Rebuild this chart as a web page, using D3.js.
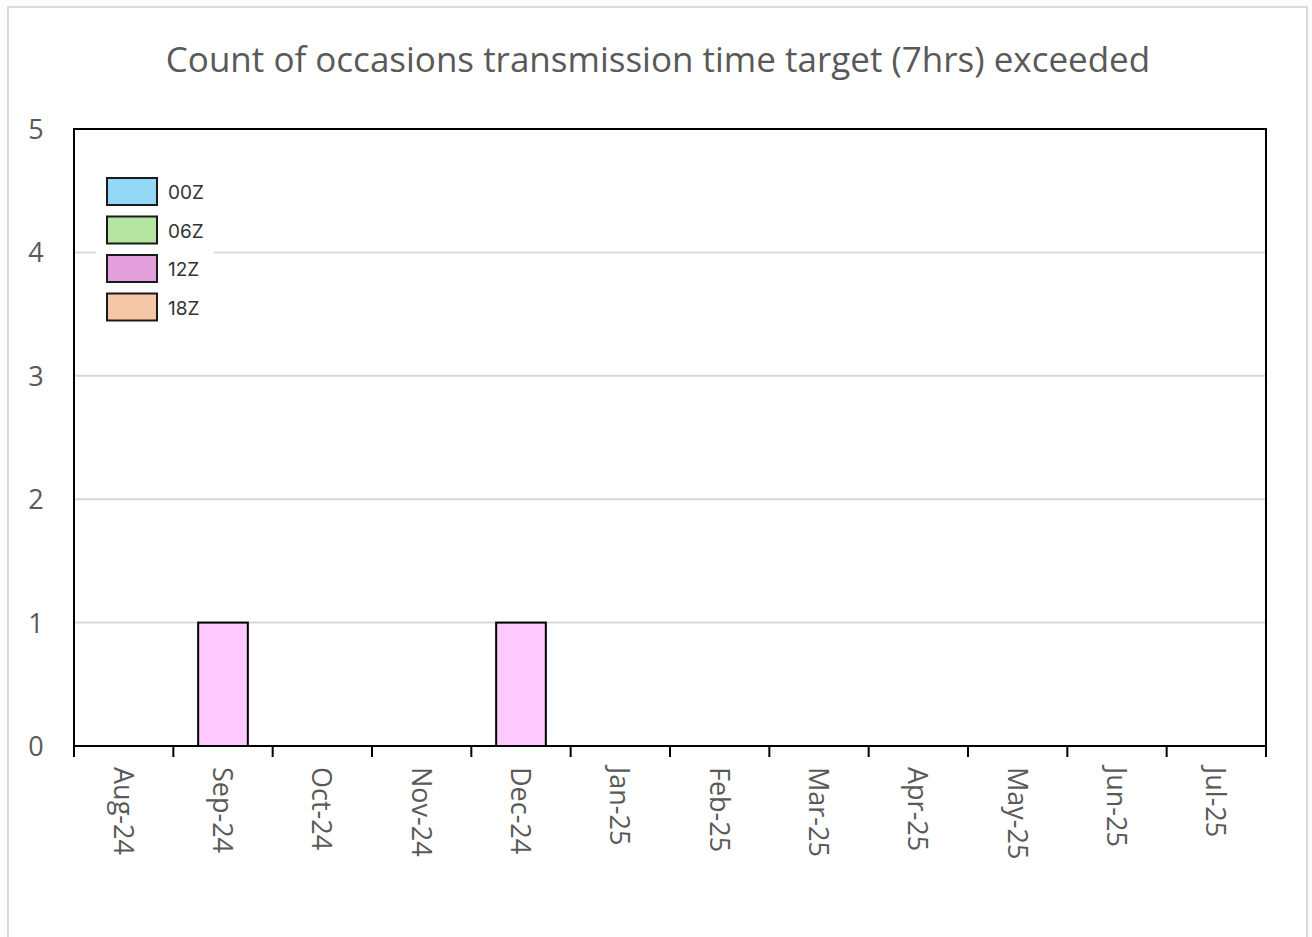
<!DOCTYPE html>
<html>
<script src="https://d3js.org/d3.v7.min.js"></script>
<body style="margin:0;background:#fcfcfc">
<svg id="canvas" width="1312" height="937"></svg>

<script>
    const months = ["Aug-24", "Sep-24", "Oct-24", "Nov-24", "Dec-24", "Jan-25",
                    "Feb-25", "Mar-25", "Apr-25", "May-25", "Jun-25", "Jul-25"];
    const series = ["00Z", "06Z", "12Z", "18Z"];
    const v00Z = [0, 0, 0, 0, 0, 0, 0, 0, 0, 0, 0, 0];
    const v06Z = [0, 0, 0, 0, 0, 0, 0, 0, 0, 0, 0, 0];
    const v12Z = [0, 1, 0, 0, 1, 0, 0, 0, 0, 0, 0, 0];
    const v18Z = [0, 0, 0, 0, 0, 0, 0, 0, 0, 0, 0, 0];
    const yTicks = [0, 1, 2, 3, 4, 5];
    const title = "Count of occasions transmission time target (7hrs) exceeded";

    const legendColors = ["#93d9f5", "#b5e3a0", "#e3a0dd", "#f5c6a6"];
    const barColors = ["#93d9f5", "#b5e3a0", "#ffc8ff", "#f5c6a6"];

    const svg = d3.select("#canvas");
    const margin = {left: 74, top: 129, right: 1266, bottom: 746};
    const font = "'Open Sans', sans-serif";
    const grey = "#595959";

    // outer frame
    svg.append("rect").attr("x", 8).attr("y", 7).attr("width", 1299).attr("height", 940)
        .attr("fill", "#fff").attr("stroke", "#d9d9d9").attr("stroke-width", 2);

    svg.append("text").attr("x", 658).attr("y", 72).attr("text-anchor", "middle")
        .attr("font-family", font).attr("font-size", 35).attr("fill", grey).text(title);

    const x = d3.scaleBand().domain(months).range([margin.left, margin.right]);
    const y = d3.scaleLinear().domain([0, 5]).range([margin.bottom, margin.top]);

    // gridlines
    svg.append("g").selectAll("line").data(yTicks.slice(1, -1)).join("line")
        .attr("x1", margin.left).attr("x2", margin.right)
        .attr("y1", d => y(d)).attr("y2", d => y(d))
        .attr("stroke", "#d9d9d9").attr("stroke-width", 2);

    // y labels
    svg.append("g").selectAll("text").data(yTicks).join("text")
        .attr("x", 36).attr("y", d => y(d) + 10).attr("text-anchor", "middle")
        .attr("font-family", font).attr("font-size", 27).attr("fill", grey)
        .text(d => d);

    // stacked bars
    const rows = months.map((m, i) => ({month: m, "00Z": v00Z[i], "06Z": v06Z[i], "12Z": v12Z[i], "18Z": v18Z[i]}));
    const stacked = d3.stack().keys(series)(rows);
    const bw = x.bandwidth() * 0.5;
    svg.append("g").selectAll("g").data(stacked).join("g")
        .attr("fill", (d, i) => barColors[i])
        .selectAll("rect").data(d => d.filter(p => p[1] - p[0] > 0)).join("rect")
        .attr("x", d => x(d.data.month) + (x.bandwidth() - bw) / 2)
        .attr("width", bw)
        .attr("y", d => y(d[1]))
        .attr("height", d => y(d[0]) - y(d[1]))
        .attr("stroke", "#000").attr("stroke-width", 2);

    // plot border
    svg.append("rect").attr("x", margin.left).attr("y", margin.top)
        .attr("width", margin.right - margin.left).attr("height", margin.bottom - margin.top)
        .attr("fill", "none").attr("stroke", "#000").attr("stroke-width", 2);

    // x axis ticks at band edges
    const edges = months.map(m => x(m)).concat([margin.right]);
    svg.append("g").selectAll("line").data(edges).join("line")
        .attr("x1", d => d).attr("x2", d => d)
        .attr("y1", margin.bottom).attr("y2", margin.bottom + 11)
        .attr("stroke", "#000").attr("stroke-width", 2);

    // x labels rotated
    svg.append("g").selectAll("text").data(months).join("text")
        .attr("transform", d => `translate(${x(d) + x.bandwidth() / 2 - 10},767) rotate(90)`)
        .attr("font-family", font).attr("font-size", 27).attr("fill", grey)
        .text(d => d);

    // legend
    const lg = svg.append("g").attr("transform", "translate(96,168)");
    lg.append("rect").attr("x", 0).attr("y", 0).attr("width", 118).attr("height", 162).attr("fill", "#fff");
    series.forEach((s, i) => {
        const row = lg.append("g").attr("transform", `translate(11,${10 + i * 38.5})`);
        row.append("rect").attr("width", 50).attr("height", 27)
            .attr("fill", legendColors[i]).attr("stroke", "#1a1a1a").attr("stroke-width", 2);
        row.append("text").attr("x", 61).attr("y", 21)
            .attr("font-family", "Inter, sans-serif").attr("font-size", 19).attr("fill", "#333")
            .text(s);
    });
</script>

</body>
</html>
